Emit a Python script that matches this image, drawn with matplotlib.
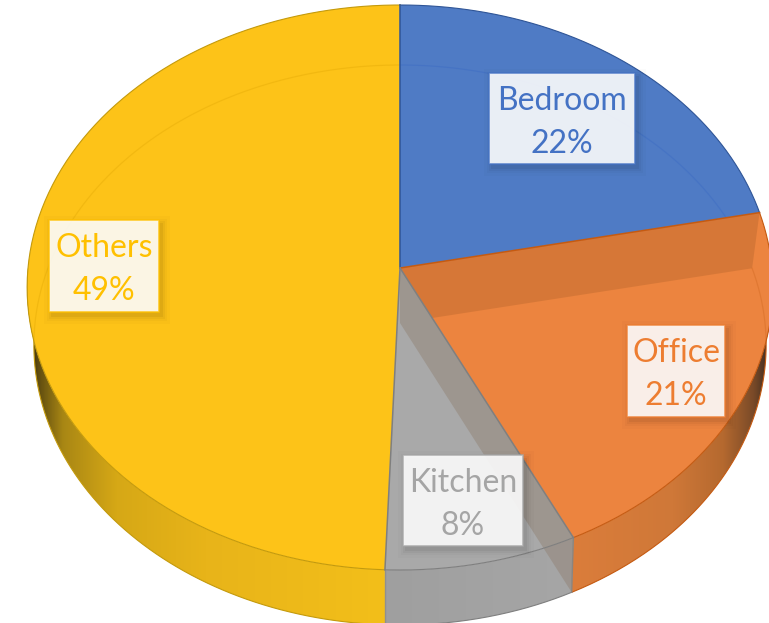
import numpy as np
import matplotlib
matplotlib.use("Agg")
import matplotlib.pyplot as plt
from matplotlib.colors import LinearSegmentedColormap
from matplotlib.patches import Polygon, Rectangle

# ---- data ----
categories = ["Bedroom", "Office", "Kitchen", "Others"]
values = [21.8, 21.0, 7.8, 49.4]

# ---- style ----
label_colors = ["#4472C4", "#ED7D31", "#A5A5A5", "#FFC000"]
top_colors = ["#4F7BC5", "#EC843F", "#A9A9A9", "#FDC318"]
edge_colors = ["#2F5597", "#C55A11", "#7F7F7F", "#C49A0C"]
ring_colors = ["#4472C4", "#DE7630", "#8F8F8F", "#F0B60F"]
label_boxes = [(489, 73, 146, 91), (627, 325, 98, 92), (403, 455, 120, 91), (49, 220, 110, 92)]

plt.rcParams["font.family"] = ["Lato", "DejaVu Sans"]

# 3D-look projection: unit disc -> picture (pixel axes)
CX = 400
TOP = dict(ay=268, a=372, up=263, down=302)
BOT = dict(ay=323, a=365, up=258, down=302)


def project(theta, r, g):
    k = (g["down"] - g["up"]) / (g["down"] + g["up"])
    b = g["up"] * (1 + k)
    u, v = r * np.sin(theta), r * np.cos(theta)
    w = 1 + k * v
    return CX + g["a"] * u / w, g["ay"] - b * v / w


def arc(a0, a1, g, n=200):
    x, y = project(np.linspace(a0, a1, n), 1.0, g)
    return np.column_stack([x, y])


edges = np.radians(np.concatenate([[0], np.cumsum(values)]) / np.sum(values) * 360)

fig = plt.figure(figsize=(7.69, 6.23), dpi=100)
ax = fig.add_axes([0, 0, 1, 1])
ax.set_axis_off()


def side_fill(a0, a1, stops, z=1):
    poly = np.vstack([arc(a0, a1, TOP), arc(a0, a1, BOT)[::-1]])
    x0, x1 = poly[:, 0].min(), poly[:, 0].max()
    cmap = LinearSegmentedColormap.from_list("s", stops)
    im = ax.imshow(np.linspace(0, 1, 512)[None, :], cmap=cmap, vmin=0, vmax=1,
                   extent=[x0, x1, 623, 0], aspect="auto", zorder=z)
    p = Polygon(poly, closed=True, fc="none", ec="none", transform=ax.transData)
    ax.add_patch(p)
    im.set_clip_path(p)
    return poly


# side walls
side_fill(edges[2], np.pi * 0.5, [(0, "#DB7D3B"), (0.5, "#CF7838"), (0.75, "#B5692F"), (0.9, "#7A4A28"), (1, "#2E241E")])
side_fill(edges[2], edges[3], [(0, "#9F9F9F"), (1, "#A6A6A6")])
side_fill(edges[3], np.pi * 1.5, [(0, "#261F0C"), (0.03, "#5F4C10"), (0.1, "#A98714"), (0.25, "#D6A816"), (0.5, "#E8B419"), (1, "#F3BF1A")])

# outer edges of side walls
for i, a0, a1 in [(1, edges[2], np.pi * 0.5), (2, edges[2], edges[3]), (3, edges[3], np.pi * 1.5)]:
    xy = arc(a0, a1, BOT)
    ax.plot(xy[:, 0], xy[:, 1], color=edge_colors[i], lw=0.8, zorder=1.5)

# top faces
clips = []
for i in range(len(values)):
    rim = arc(edges[i], edges[i + 1], TOP)
    ax_pt = project(0.0, 0.0, TOP)
    poly = np.vstack([[ax_pt], rim])
    ax.add_patch(Polygon(poly, closed=True, fc=top_colors[i], ec="none", zorder=2))
    c = Polygon(poly, closed=True, fc="none", ec="none")
    ax.add_patch(c)
    clips.append(c)

# back rim seen through the top
for i, a0, a1 in [(0, 0, edges[1]), (1, edges[1], np.radians(100)), (3, np.radians(262), 2 * np.pi)]:
    xy = arc(a0, a1, BOT)
    ln, = ax.plot(xy[:, 0], xy[:, 1], color=ring_colors[i], lw=0.9, alpha=0.8, zorder=2.5)
    ln.set_clip_path(clips[i])

# inner wall of office seen through the top
wall = np.array([project(0.0, 0.0, TOP), project(edges[1], 1, TOP), project(edges[1], 1, BOT), project(0.0, 0.0, BOT)])
wp = Polygon(wall, closed=True, fc="#B0622A", ec="none", alpha=0.36, zorder=3)
ax.add_patch(wp)
wp.set_clip_path(clips[1])

# inner wall of kitchen seen through the top and side
wall2 = np.array([project(0.0, 0.0, TOP), project(edges[2], 1, TOP), project(edges[2], 1, BOT), project(0.0, 0.0, BOT)])
ax.add_patch(Polygon(wall2, closed=True, fc="#8F7F70", ec="none", alpha=0.45, zorder=3))

# rim edges of the top faces
for i in range(len(values)):
    rim = arc(edges[i], edges[i + 1], TOP)
    ax.plot(rim[:, 0], rim[:, 1], color=edge_colors[i], lw=0.8, zorder=4)

# radial edges
pt = project(0.0, 0.0, TOP)
for a, col in [(edges[0], edge_colors[0]), (edges[1], edge_colors[1]), (edges[2], edge_colors[2]), (edges[3], edge_colors[2])]:
    x, y = project(a, 1, TOP)
    ax.plot([pt[0], x], [pt[1], y], color=col, lw=1.1, zorder=4.2)

# vertical edges on the side wall
p0, p1 = project(edges[2], 1, TOP), project(edges[2], 1, BOT)
ax.plot([p0[0], p1[0]], [p0[1], p1[1]], color="#8A8580", lw=1.0, zorder=4)
p0 = project(edges[3], 1, TOP)
ax.plot([p0[0], p0[0]], [p0[1], 640], color="#8F8F8F", lw=1.0, zorder=4)

# labels
for name, v, col, (x, y, w, h) in zip(categories, values, label_colors, label_boxes):
    for grow, al in [(8, 0.015), (5, 0.025), (3, 0.035), (1, 0.05)]:
        ax.add_patch(Rectangle((x + 3 - grow, y + 4 - grow), w + 2 * grow, h + 2 * grow,
                               fc="#000000", ec="none", alpha=al, zorder=5))
    ax.add_patch(Rectangle((x, y), w, h, fc="#FFFFFF", ec="none", alpha=0.89, zorder=5.5))
    ax.add_patch(Rectangle((x, y), w, h, fc="none", ec=col, lw=1.2, alpha=0.8, zorder=5.6))
    ax.text(x + w / 2, y + h * 0.305, name, color=col, fontsize=23, ha="center", va="center", zorder=6)
    ax.text(x + w / 2, y + h * 0.775, f"{round(v)}%", color=col, fontsize=23, ha="center", va="center", zorder=6)

ax.set_xlim(0, 769)
ax.set_ylim(623, 0)
fig.savefig("out.png", dpi=100, facecolor="white")
